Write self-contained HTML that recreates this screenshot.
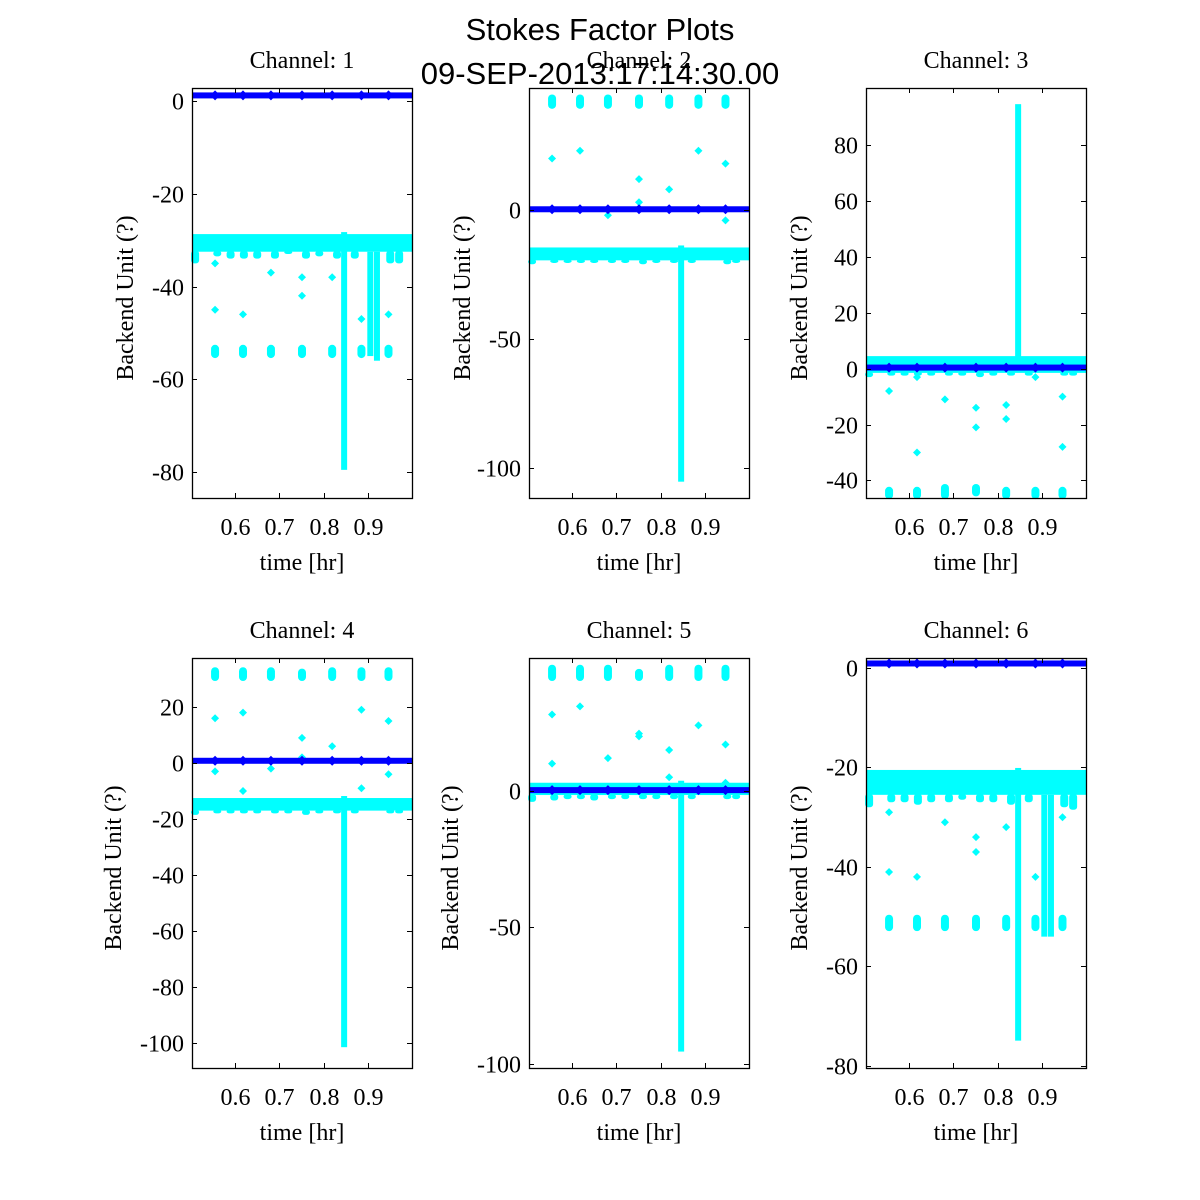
<!DOCTYPE html>
<html><head><meta charset="utf-8"><style>
html,body{margin:0;padding:0;background:#fff;}
svg{display:block;}
.ser{font-family:"Liberation Serif",serif;font-size:24px;fill:#000;}
.sans{font-family:"Liberation Sans",sans-serif;font-size:31px;fill:#000;}
</style></head><body>
<svg id="c" width="1200" height="1200" viewBox="0 0 1200 1200" xmlns="http://www.w3.org/2000/svg">
<text class="sans" x="600" y="40" text-anchor="middle">Stokes Factor Plots</text>
<text class="sans" x="600" y="84" text-anchor="middle">09-SEP-2013:17:14:30.00</text>
</svg>
<script>
// ---- data ----
const xTicks = [0.6, 0.7, 0.8, 0.9];
const xDomain = [0.503, 0.999];
const clusterTimes = [0.555, 0.618, 0.681, 0.751, 0.819, 0.885, 0.946];
const blueMarkTimes = [0.555, 0.618, 0.681, 0.751, 0.819, 0.885, 0.946];
const spikeTime = 0.846;
const channels = [1, 2, 3, 4, 5, 6];
const yDomains = [[-85.6, 2.8], [-111.6, 47.3], [-46.3, 100.5], [-108.9, 37.5], [-101.5, 48.7], [-80.4, 2]];
const yTicks = [[0, -20, -40, -60, -80], [0, -50, -100], [80, 60, 40, 20, 0, -20, -40], [20, 0, -20, -40, -60, -80, -100], [0, -50, -100], [0, -20, -40, -60, -80]];
const blueValues = [1.2, 0.3, 0.4, 0.8, 0.3, 0.9];
const bandLow = [-32.5, -19.5, -1.5, -17, -1.5, -25.5];
const bandHigh = [-28.7, -14.5, 4.5, -12.5, 3, -20.5];
const dipTimes = [0.51, 0.56, 0.59, 0.62, 0.65, 0.69, 0.72, 0.76, 0.79, 0.83, 0.87, 0.95, 0.97];
const dipDepth = [[-35, -33.5, -34, -34, -34, -34, -33, -34, -33.5, -34, -34, -35, -35],
  [-21, -20.5, -20.5, -20.5, -20.5, -20.5, -20.5, -21, -20.5, -20.5, -20.5, -21, -20.5],
  [-3, -2.5, -2.5, -2.5, -2.5, -2.5, -2.5, -3, -2.5, -2.5, -2.5, -2.5, -2.5],
  [-18.5, -18, -18, -18, -18, -18, -18, -18.5, -18, -18, -18, -18, -18],
  [-4, -3.5, -3, -3, -3.5, -3, -3, -3, -3, -3, -3, -3, -3],
  [-28, -27, -27, -27.5, -27, -27, -26.5, -27, -27, -27.5, -27, -28, -28.5]];
const clusterLow = [[-55, -55, -55, -55, -55, -55, -55], [40, 40, 40, 40, 40, 40, 40], [-46, -46, -46, -45, -46, -46, -46], [30, 30, 30, 30, 30, 30, 30], [41, 41, 41, 41, 41, 41, 41], [-52.5, -52.5, -52.5, -52.5, -52.5, -52.5, -52.5]];
const clusterHigh = [[-53, -53, -53, -53, -53, -53, -53], [44, 44, 44, 44, 44, 44, 44], [-43, -43, -42, -42, -43, -43, -43], [33.5, 33.5, 33.5, 33, 33.5, 33.5, 33.5], [45.5, 45.5, 45.5, 44, 45.5, 45.5, 45.5], [-50, -50, -50, -50, -50, -50, -50]];
const spikeEnd = [-81, -107, 94, -103, -97, -77];
const extraSpikeTimes = [0.905, 0.92];
const extraSpikeEnd = [[-55, -56], null, null, null, null, [-54, -54]];
const strayT = [[0.555, 0.555, 0.618, 0.681, 0.751, 0.751, 0.819, 0.885, 0.946],
  [0.555, 0.618, 0.751, 0.819, 0.885, 0.946, 0.681, 0.751, 0.946],
  [0.555, 0.618, 0.681, 0.751, 0.751, 0.819, 0.819, 0.885, 0.946, 0.946, 0.618],
  [0.555, 0.618, 0.751, 0.819, 0.885, 0.946, 0.751, 0.555, 0.618, 0.681, 0.885, 0.946],
  [0.555, 0.618, 0.681, 0.751, 0.819, 0.885, 0.946, 0.555, 0.751, 0.946, 0.819],
  [0.555, 0.555, 0.618, 0.681, 0.751, 0.751, 0.819, 0.885, 0.946]];
const strayV = [[-45, -35, -46, -37, -38, -42, -38, -47, -46],
  [20, 23, 12, 8, 23, 18, -2, 3, -4],
  [-8, -30, -11, -14, -21, -13, -18, -3, -10, -28, -3],
  [16, 18, 9, 6, 19, 15, 2, -3, -10, -2, -9, -4],
  [28, 31, 12, 20, 15, 24, 17, 10, 21, 3, 5],
  [-41, -29, -42, -31, -34, -37, -32, -42, -30]];
// ---- layout ----
const colX = [192, 529, 866], rowY = [88, 658], W = 220, H = 410;
const ylabX = [[126, 463, 800], [114, 451, 800]];
const svg = document.getElementById('c');
const NS = 'http://www.w3.org/2000/svg';
function mk(tag, attrs, parent) {
  const e = document.createElementNS(NS, tag);
  for (const k in attrs) e.setAttribute(k, attrs[k]);
  (parent || svg).appendChild(e); return e;
}
const CY = '#00ffff', BL = '#0000ff';
channels.forEach((ch, i) => {
  const r = Math.floor(i / 3), c = i % 3;
  const x0 = colX[c], y0 = rowY[r];
  const xs = t => x0 + (t - xDomain[0]) / (xDomain[1] - xDomain[0]) * W;
  const ys = v => y0 + (yDomains[i][1] - v) / (yDomains[i][1] - yDomains[i][0]) * H;
  const g = mk('g', {});
  
  
  const clip = mk('clipPath', { id: 'cl' + i }, g);
  mk('rect', { x: x0 - 6, y: y0 - 6, width: W + 12, height: H + 12 }, clip);
  const d = mk('g', { 'clip-path': 'url(#cl' + i + ')' }, g);
  // band
  const band = mk('rect', { x: x0, y: ys(bandHigh[i]), width: W, height: ys(bandLow[i]) - ys(bandHigh[i]), fill: CY }, d);
  
  
  dipTimes.forEach((t, k) => {
    const a = ys(bandLow[i]), b = ys(dipDepth[i][k]);
    const dp = mk('rect', { x: xs(t) - 4, y: a - 1, width: 8, height: b - a + 1, rx: 3, fill: CY }, d);
    
    
  });
  // clusters
  clusterTimes.forEach((t, k) => {
    const a = ys(clusterHigh[i][k]), b = ys(clusterLow[i][k]);
    const cr = mk('rect', { x: xs(t) - 4, y: a - 2, width: 8, height: b - a + 4, rx: 4, fill: CY }, d);
    
    
  });
  // spikes
  const sp = mk('rect', { x: xs(spikeTime) - 3, y: Math.min(ys(spikeEnd[i]), ys(bandHigh[i])) - 2, width: 6, height: Math.abs(ys(spikeEnd[i]) - ys((bandHigh[i] + bandLow[i]) / 2)) + 4, fill: CY }, d);
  
  
  if (extraSpikeEnd[i]) extraSpikeTimes.forEach((t, k) => {
    const es = mk('rect', { x: xs(t) - 3, y: ys(bandLow[i]), width: 6, height: ys(extraSpikeEnd[i][k]) - ys(bandLow[i]), fill: CY }, d);
    
    
  });
  // stray points
  strayT[i].forEach((t, k) => {
    const px = xs(t), py = ys(strayV[i][k]);
    const p = mk('path', { d: `M${px - 4},${py}L${px},${py - 4}L${px + 4},${py}L${px},${py + 4}Z`, fill: CY }, d);
    
    
  });
  // blue line
  const by = ys(blueValues[i]);
  const bl = mk('rect', { x: x0, y: by - 3, width: W, height: 6, fill: BL }, d);
  
  
  blueMarkTimes.forEach(t => {
    const px = xs(t);
    const m = mk('path', { d: `M${px - 5},${by}L${px},${by - 5}L${px + 5},${by}L${px},${by + 5}Z`, fill: BL }, d);
    
    
  });
  // frame
  const fr = mk('rect', { x: x0 + 0.5, y: y0 + 0.5, width: W, height: H, fill: 'none', stroke: '#000', 'stroke-width': 1.3 }, g);
  
  
  // x ticks
  xTicks.forEach(t => {
    const px = Math.round(xs(t)) + 0.5;
    mk('line', { x1: px, y1: y0 + H, x2: px, y2: y0 + H - 5, stroke: '#000' }, g);
    mk('line', { x1: px, y1: y0, x2: px, y2: y0 + 5, stroke: '#000' }, g);
    const tl = mk('text', { x: px, y: y0 + H + 37, 'text-anchor': 'middle', class: 'ser' }, g);
    tl.textContent = t.toFixed(1);
    
    
  });
  yTicks[i].forEach(v => {
    const py = Math.round(ys(v)) + 0.5;
    mk('line', { x1: x0, y1: py, x2: x0 + 5, y2: py, stroke: '#000' }, g);
    mk('line', { x1: x0 + W, y1: py, x2: x0 + W - 5, y2: py, stroke: '#000' }, g);
    const tl = mk('text', { x: x0 - 8, y: py + 8, 'text-anchor': 'end', class: 'ser' }, g);
    tl.textContent = v;
    
    
  });
  const tt = mk('text', { x: x0 + W / 2, y: y0 - 20, 'text-anchor': 'middle', class: 'ser' }, g);
  tt.textContent = 'Channel: ' + ch;
  
  
  const xl = mk('text', { x: x0 + W / 2, y: y0 + H + 72, 'text-anchor': 'middle', class: 'ser' }, g);
  xl.textContent = 'time [hr]';
  
  
  const lx = ylabX[r][c] + 7, ly = y0 + H / 2 + 5;
  const yl = mk('text', { x: lx, y: ly, 'text-anchor': 'middle', class: 'ser', transform: `rotate(-90 ${lx} ${ly})` }, g);
  yl.textContent = 'Backend Unit (?)';
  
  
});
</script>
</body></html>
